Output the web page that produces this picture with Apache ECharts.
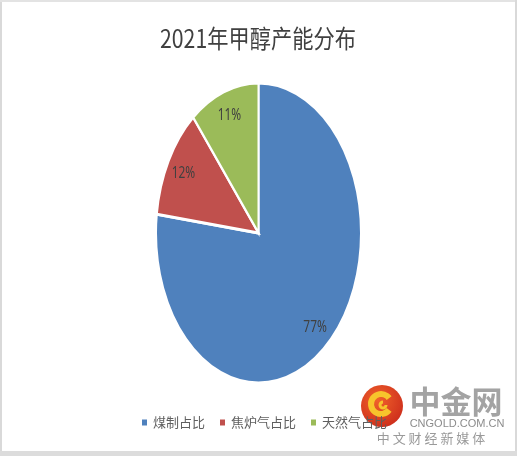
<!DOCTYPE html>
<html>
<head>
<meta charset="utf-8">
<script src="https://cdn.jsdelivr.net/npm/echarts@6/dist/echarts.min.js"></script>
<style>
html,body{margin:0;padding:0;background:#fff;}
#main{width:517px;height:456px;}
</style>
</head>
<body>
<div id="main"></div>
<script>
const titleText = '2021年甲醇产能分布';
const categories = ['煤制占比', '焦炉气占比', '天然气占比'];
const values = [77, 12, 11];
const colors = ['#4F81BD', '#C0504D', '#9BBB59'];

const total = values.reduce((a, b) => a + b, 0);
const FONT = '"Noto Sans CJK SC", "Noto Sans", sans-serif';
const NUMFONT = '"Noto Sans", sans-serif';

function renderSlice(params, api) {
  const v = api.value(0);
  const before = api.value(1);
  const cx = 258.5, cy = 233, R = 102.5, sy = 150 / 102.5;
  const start = -Math.PI / 2 + 2 * Math.PI * before / total;
  const end = start + 2 * Math.PI * v / total;
  const mid = (start + end) / 2;
  const lr = 0.835 * R;
  return {
    type: 'group',
    children: [
      {
        type: 'sector',
        shape: { cx: cx, cy: cy, r0: 0, r: R, startAngle: start, endAngle: end, clockwise: true },
        originX: cx, originY: cy, scaleX: 1, scaleY: sy,
        style: { fill: api.visual('color'), stroke: '#ffffff', lineWidth: 2, strokeNoScale: true }
      },
      {
        type: 'text',
        x: cx + lr * Math.cos(mid),
        y: cy + lr * sy * Math.sin(mid),
        scaleX: 0.7,
        style: {
          text: v + '%', fill: '#404040', font: '17px ' + NUMFONT,
          align: 'center', verticalAlign: 'middle'
        }
      }
    ]
  };
}

let acc = 0;
const series = categories.map((name, i) => {
  const s = {
    type: 'custom', name: name, coordinateSystem: 'none',
    silent: true, animation: false,
    itemStyle: { color: colors[i] },
    data: [[values[i], acc]],
    renderItem: renderSlice
  };
  acc += values[i];
  return s;
});

const chart = echarts.init(document.getElementById('main'), null, { renderer: 'canvas' });
chart.setOption({
  animation: false,
  backgroundColor: '#ffffff',
  color: colors,
  legend: {
    data: categories, top: 416, left: 142, padding: 0,
    icon: 'rect', itemWidth: 5, itemHeight: 6, itemGap: 15,
    textStyle: { fontFamily: FONT, fontSize: 13, color: '#5f5f5f', padding: [0, 0, 0, 1] },
    selectedMode: false
  },
  graphic: [
    { type: 'text', x: 258, y: 38, scaleX: 0.85,
      style: { text: titleText, font: '25px ' + FONT, fill: '#404040', align: 'center', verticalAlign: 'middle' } },
    { type: 'rect', shape: { x: 0, y: 0, width: 2, height: 456 }, style: { fill: '#d9d9d9' }, z: 100 },
    { type: 'rect', shape: { x: 0, y: 0, width: 517, height: 2 }, style: { fill: '#e3e3e3' }, z: 100 },
    { type: 'rect', shape: { x: 515, y: 0, width: 2, height: 456 }, style: { fill: '#d9d9d9' }, z: 100 },
    { type: 'rect', shape: { x: 0, y: 451, width: 517, height: 5 }, style: { fill: '#dcdcdc' }, z: 100 },
    {
      type: 'group', z: 50,
      children: [
        { type: 'circle', shape: { cx: 382, cy: 406, r: 21 },
          style: { fill: new echarts.graphic.RadialGradient(0.4, 0.35, 0.8, [
            { offset: 0, color: '#f0622a' }, { offset: 1, color: '#c8261a' }]) } },
        { type: 'arc', shape: { cx: 381, cy: 404, r: 10, startAngle: 0.2 * Math.PI, endAngle: 1.8 * Math.PI, clockwise: true },
          style: { stroke: '#f7c52c', lineWidth: 6, fill: null } },
        { type: 'arc', shape: { cx: 383, cy: 405, r: 3, startAngle: 0, endAngle: 1.5 * Math.PI, clockwise: true },
          style: { stroke: '#f7c52c', lineWidth: 3, fill: null } },
        { type: 'text', x: 456, y: 401,
          style: { text: '中金网', font: 'bold 31px ' + FONT, fill: '#a3a3a3', align: 'center', verticalAlign: 'middle' } },
        { type: 'text', x: 457, y: 424,
          style: { text: 'CNGOLD.COM.CN', font: '11px "Liberation Sans", sans-serif', fill: '#8c8c8c', align: 'center', verticalAlign: 'middle' } },
        { type: 'text', x: 431, y: 438,
          style: { text: '中 文 财 经 新 媒 体', font: '13px ' + FONT, fill: '#9a9a9a', align: 'center', verticalAlign: 'middle' } }
      ]
    }
  ],
  series: series
});
</script>
</body>
</html>
